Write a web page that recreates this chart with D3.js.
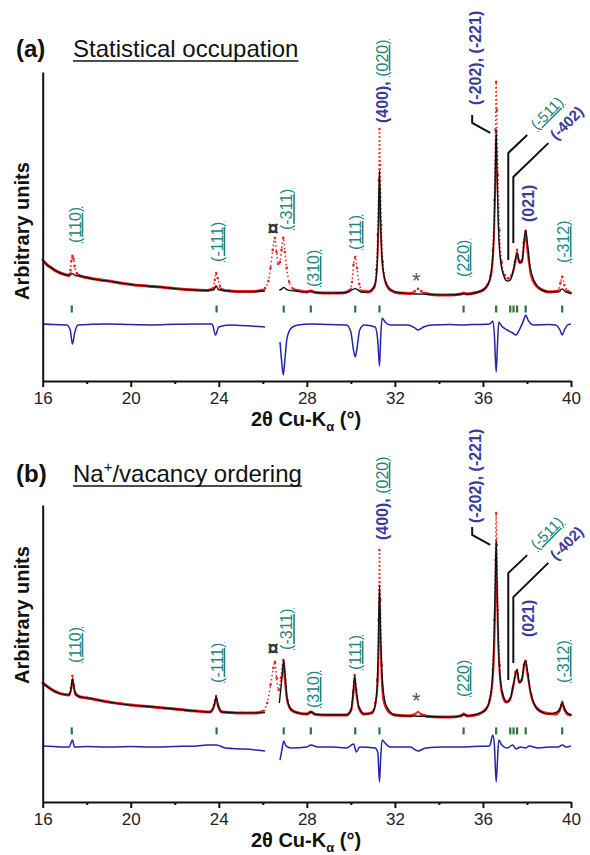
<!DOCTYPE html>
<html>
<head>
<meta charset="utf-8">
<script src="https://cdn.jsdelivr.net/npm/d3@7"></script>
<style>
  body { margin: 0; background: #fff; }
  svg { display: block; }
  text { font-family: "Liberation Sans", Arial, sans-serif; }
</style>
</head>
<body>
<div id="chart"></div>
<script>
// x axis ticks (2 theta, degrees)
const xTicks = [16, 20, 24, 28, 32, 36, 40];
const xMinorTicks = [18, 22, 26, 30, 34, 38];

// region left out of the refinement (calc and difference curves break here)
const excluded = [26.12, 26.72];

// Bragg reflection positions (green tick marks)
const reflections = [17.32, 23.9, 26.95, 28.18, 30.2, 31.3, 35.12, 36.6, 37.24, 37.39, 37.55, 37.94, 39.6];

// (a) statistical occupation: [2theta, intensity]
const obsA = [[16.0,40.3],[16.2,38.7],[16.4,37.7],[16.6,36.7],[16.8,36.0],[17.0,35.5],[17.2,35.2],[17.26,37.0],[17.3,40.0],[17.35,41.7],[17.4,40.7],[17.45,38.3],[17.55,36.0],[17.7,35.0],[18.0,34.5],[18.5,33.8],[19.0,33.3],[19.5,32.7],[20.0,32.2],[20.5,31.8],[21.0,31.5],[21.5,31.2],[22.0,30.8],[22.5,30.5],[23.0,30.3],[23.5,30.2],[23.75,31.0],[23.82,33.7],[23.88,36.0],[23.95,34.3],[24.05,31.7],[24.2,30.3],[24.5,30.0],[25.0,29.8],[25.5,29.8],[25.9,30.2],[26.1,31.0],[26.25,33.3],[26.35,37.7],[26.45,43.7],[26.55,47.7],[26.62,43.0],[26.7,39.0],[26.78,39.7],[26.85,43.7],[26.93,47.7],[27.0,43.0],[27.08,37.7],[27.2,33.0],[27.4,30.7],[27.7,30.0],[28.0,29.7],[28.18,30.0],[28.4,29.5],[29.0,29.3],[29.6,29.3],[29.9,30.0],[30.05,33.0],[30.12,38.7],[30.2,41.3],[30.28,37.7],[30.38,32.3],[30.55,30.0],[30.8,29.7],[31.05,31.3],[31.15,37.0],[31.22,48.7],[31.27,67.0],[31.3,84.0],[31.33,72.0],[31.38,52.0],[31.45,39.7],[31.6,32.7],[31.8,30.3],[32.2,29.3],[32.7,29.2],[32.9,30.0],[33.05,30.7],[33.2,30.0],[33.5,29.0],[34.0,28.7],[34.5,28.7],[35.0,29.0],[35.12,29.3],[35.3,29.0],[35.7,29.5],[36.0,30.3],[36.2,32.0],[36.35,35.3],[36.45,43.7],[36.52,60.3],[36.57,83.7],[36.6,99.7],[36.63,90.3],[36.68,68.7],[36.75,50.3],[36.85,39.7],[37.0,35.3],[37.15,34.3],[37.3,35.3],[37.45,39.7],[37.55,43.7],[37.65,39.7],[37.75,39.7],[37.85,46.0],[37.94,50.0],[38.05,43.0],[38.2,35.3],[38.4,32.0],[38.7,30.3],[39.0,29.7],[39.4,30.0],[39.52,32.7],[39.6,34.7],[39.7,32.0],[39.85,30.0],[40.0,29.3]];
const calcA = [[16.0,40.3],[16.2,38.7],[16.4,37.7],[16.6,36.7],[16.8,36.0],[17.0,35.5],[17.2,35.2],[17.35,35.8],[17.5,35.1],[17.7,35.0],[18.0,34.5],[18.5,33.8],[19.0,33.3],[19.5,32.7],[20.0,32.2],[20.5,31.8],[21.0,31.5],[21.5,31.2],[22.0,30.8],[22.5,30.5],[23.0,30.3],[23.5,30.2],[23.78,30.4],[23.88,31.7],[23.98,30.5],[24.2,30.2],[24.5,30.0],[25.0,29.8],[25.5,29.8],[26.1,30.0],[26.75,30.2],[26.88,30.8],[26.95,31.2],[27.05,30.6],[27.2,30.2],[27.5,30.0],[28.0,29.7],[28.18,29.9],[28.4,29.5],[29.0,29.3],[29.8,29.5],[30.2,30.8],[30.5,29.6],[30.8,29.8],[31.0,30.7],[31.12,33.0],[31.2,40.3],[31.25,53.7],[31.3,70.3],[31.35,54.3],[31.42,41.0],[31.55,33.7],[31.75,30.7],[32.0,29.7],[32.5,29.2],[33.0,29.0],[33.5,28.9],[34.0,28.7],[34.5,28.7],[35.0,28.9],[35.12,29.1],[35.3,29.0],[35.7,29.5],[35.9,30.0],[36.15,31.3],[36.3,33.7],[36.42,39.7],[36.5,50.3],[36.56,70.3],[36.6,83.7],[36.64,70.3],[36.7,52.0],[36.8,40.3],[36.95,35.0],[37.1,33.3],[37.25,33.7],[37.4,37.7],[37.55,42.7],[37.68,39.3],[37.78,40.3],[37.87,47.0],[37.94,50.3],[38.03,45.3],[38.15,37.7],[38.35,33.0],[38.6,30.7],[39.0,29.7],[39.45,29.7],[39.6,30.7],[39.75,29.7],[40.0,29.3]];
const diffA = [[16.0,19.0],[16.5,18.8],[17.1,18.7],[17.25,17.0],[17.35,12.3],[17.45,16.0],[17.6,18.7],[18.2,18.9],[19.0,19.0],[20.0,18.8],[21.0,18.7],[22.0,18.9],[23.0,19.0],[23.7,19.0],[23.85,15.3],[24.0,18.0],[24.5,18.7],[25.0,18.5],[25.5,18.3],[26.1,18.0],[26.78,13.0],[26.85,7.0],[26.93,2.0],[27.0,7.0],[27.1,14.3],[27.3,17.7],[27.6,18.7],[28.2,19.0],[29.0,18.8],[29.8,18.7],[30.0,16.3],[30.12,10.3],[30.2,8.0],[30.28,11.0],[30.4,17.0],[30.6,18.7],[31.1,18.0],[31.22,13.7],[31.3,5.0],[31.36,15.3],[31.42,21.0],[31.55,19.7],[31.8,18.7],[32.6,18.7],[32.9,17.7],[33.05,17.0],[33.3,18.0],[33.7,18.7],[34.5,18.8],[35.0,18.7],[35.5,18.8],[36.3,19.0],[36.45,20.0],[36.52,15.3],[36.6,3.0],[36.66,12.0],[36.72,19.7],[36.85,18.3],[37.1,17.0],[37.35,16.0],[37.5,15.3],[37.65,17.0],[37.85,20.3],[37.94,22.0],[38.05,20.3],[38.3,18.7],[39.0,18.8],[39.3,18.7],[39.5,17.0],[39.6,15.3],[39.7,17.0],[39.85,18.7],[40.0,19.0]];

// (b) Na+/vacancy ordering: [2theta, intensity]
const obsB = [[16.0,39.7],[16.3,38.0],[16.6,36.7],[17.0,35.8],[17.2,35.7],[17.28,38.0],[17.35,42.0],[17.42,39.0],[17.5,36.0],[17.7,35.0],[18.0,34.7],[18.5,34.0],[19.0,33.3],[19.5,32.8],[20.0,32.3],[20.5,32.0],[21.0,31.7],[21.5,31.3],[22.0,31.0],[22.5,30.6],[23.0,30.3],[23.6,30.0],[23.78,32.3],[23.88,35.3],[23.98,32.0],[24.15,30.0],[24.6,29.8],[25.0,29.7],[25.7,29.7],[26.0,30.3],[26.2,33.0],[26.35,39.0],[26.48,44.7],[26.55,46.7],[26.63,41.3],[26.72,37.3],[26.82,41.3],[26.93,47.3],[27.02,40.7],[27.12,34.0],[27.3,30.7],[27.6,29.7],[28.0,29.3],[28.18,30.0],[28.4,29.2],[29.0,29.0],[29.8,29.0],[30.0,30.7],[30.1,36.7],[30.17,42.3],[30.25,37.3],[30.38,31.3],[30.6,29.3],[30.95,29.7],[31.1,33.0],[31.2,40.7],[31.26,60.7],[31.3,84.0],[31.34,67.3],[31.4,45.7],[31.5,34.0],[31.7,30.3],[32.0,29.0],[32.7,28.7],[32.9,29.3],[33.05,30.0],[33.2,29.3],[33.5,28.5],[34.5,28.3],[35.0,28.7],[35.12,29.3],[35.3,28.7],[35.8,29.3],[36.1,30.7],[36.3,34.0],[36.45,44.0],[36.52,60.7],[36.57,80.7],[36.6,96.3],[36.63,85.7],[36.68,64.0],[36.76,45.7],[36.88,36.3],[37.05,33.3],[37.2,34.0],[37.35,38.0],[37.47,43.3],[37.55,44.0],[37.65,40.0],[37.75,40.7],[37.86,45.7],[37.94,47.0],[38.05,42.3],[38.2,35.7],[38.45,31.3],[38.8,29.7],[39.3,29.3],[39.48,30.7],[39.6,33.3],[39.72,30.7],[39.85,29.3],[40.0,29.0]];
const calcB = [[16.0,39.7],[16.3,38.0],[16.6,36.7],[17.0,35.8],[17.2,35.7],[17.28,37.5],[17.35,41.0],[17.42,38.5],[17.5,36.0],[17.7,35.0],[18.0,34.7],[19.0,33.3],[20.0,32.3],[21.0,31.7],[22.0,31.0],[23.0,30.3],[23.6,30.0],[23.78,32.0],[23.88,35.0],[23.98,32.0],[24.15,30.0],[25.0,29.7],[25.7,29.7],[26.1,29.8],[26.75,33.0],[26.85,40.0],[26.95,47.3],[27.03,41.0],[27.12,34.0],[27.3,30.7],[27.6,29.7],[28.0,29.3],[28.18,30.0],[28.4,29.2],[29.0,29.0],[29.8,29.0],[30.0,30.5],[30.1,36.5],[30.17,42.0],[30.25,37.0],[30.38,31.3],[30.6,29.3],[30.95,29.7],[31.0,30.0],[31.12,33.0],[31.2,40.0],[31.25,54.0],[31.3,72.3],[31.35,56.7],[31.42,42.3],[31.55,33.3],[31.75,30.3],[32.0,29.0],[32.7,28.7],[33.0,28.6],[33.5,28.5],[34.5,28.3],[35.0,28.7],[35.12,29.2],[35.3,28.7],[35.9,29.7],[36.15,31.0],[36.3,34.0],[36.42,40.7],[36.5,54.0],[36.56,74.0],[36.6,87.3],[36.64,74.0],[36.7,54.0],[36.8,40.7],[36.95,34.7],[37.1,33.3],[37.25,34.7],[37.4,40.0],[37.55,44.0],[37.66,39.7],[37.76,40.7],[37.87,46.0],[37.94,47.0],[38.03,43.3],[38.15,37.3],[38.35,32.3],[38.6,30.3],[39.0,29.3],[39.45,30.3],[39.6,33.0],[39.75,30.3],[40.0,29.0]];
const diffB = [[16.0,18.7],[16.5,18.5],[17.2,18.3],[17.35,20.7],[17.45,18.3],[18.0,18.5],[19.0,18.3],[20.0,18.5],[21.0,18.3],[22.0,18.5],[23.0,18.7],[23.5,19.0],[23.9,19.0],[24.3,18.0],[25.0,17.7],[25.5,17.5],[26.1,17.0],[26.78,14.0],[26.85,16.7],[26.95,20.3],[27.05,18.7],[27.3,18.0],[28.0,18.3],[28.18,19.0],[28.5,18.3],[29.2,18.3],[29.8,18.0],[30.12,19.3],[30.25,16.7],[30.4,18.3],[31.1,18.0],[31.22,16.7],[31.3,6.7],[31.35,14.0],[31.42,20.7],[31.55,19.7],[31.8,18.3],[32.7,18.3],[33.05,17.0],[33.4,18.0],[34.2,18.3],[35.0,18.3],[35.6,18.5],[36.3,18.7],[36.45,22.3],[36.52,19.0],[36.6,6.7],[36.66,14.0],[36.72,20.7],[36.85,19.0],[37.1,18.0],[37.35,19.0],[37.5,17.7],[37.7,18.3],[37.94,18.0],[38.1,18.7],[38.5,18.0],[39.0,18.3],[39.4,18.3],[39.6,19.0],[39.8,18.3],[40.0,18.7]];

const TEAL = "#23857c";
const BLUE = "#3b3b9c";
const RED = "#e8262a";

// hkl labels: text parts, where they sit (deg, intensity in a / b) and rotation
const hklLabels = [
  { parts: [["(110)", TEAL]], deg: 17.47, v: [46, 46.3] },
  { parts: [["(-111)", TEAL]], deg: 23.92, v: [39.7, 39.7] },
  { parts: [["(-311)", TEAL]], deg: 27.08, v: [50.3, 50.7] },
  { parts: [["(310)", TEAL]], deg: 28.29, v: [31.3, 31.3] },
  { parts: [["(111)", TEAL]], deg: 30.2, v: [43.7, 44] },
  { parts: [["(400), ", BLUE], ["(020)", TEAL]], deg: 31.42, v: [86, 87.3] },
  { parts: [["(220)", TEAL]], deg: 35.1, v: [34.7, 35] },
  { parts: [["(-202), (-221)", BLUE]], deg: 35.65, v: [92, 93] },
  { parts: [["(021)", BLUE]], deg: 38.06, v: [53, 55] },
  { parts: [["(-312)", TEAL]], deg: 39.65, v: [39.3, 39.7] },
  { parts: [["(-511)", TEAL]], deg: 38.9, v: [89.3, 89.7], rot: -45, anchor: "middle" },
  { parts: [["(-402)", BLUE]], deg: 39.8, v: [86, 86.3], rot: -45, anchor: "middle" }
];

const leaders = [
  { deg: [35.51, 35.51, 36.33], v: [[88.7, 86, 82.7], [91.7, 89, 85.7]] },
  { deg: [38.01, 37.15, 37.15], v: [[82, 76, 40.3], [82.3, 76.3, 40.7]] },
  { deg: [38.97, 37.38, 37.38], v: [[79.3, 68, 46], [79.7, 68.3, 46.3]] }
];

const panels = [
  { idx: 0, tag: "(a)", title: [["Statistical occupation"]], titleY: 57, axisY: 381, topY: 72,
    unitsY: 231, obs: obsA, calc: calcA, diff: diffA, reflV: 24, impurityV: 48.7, starV: 31 },
  { idx: 1, tag: "(b)", title: [["Na"], ["+", "sup"], ["/vacancy ordering"]], titleY: 482, axisY: 802, topY: 505,
    unitsY: 615, obs: obsB, calc: calcB, diff: diffB, reflV: 23.7, impurityV: 49, starV: 31.3 }
];

const svg = d3.select("#chart").append("svg")
  .attr("width", 590)
  .attr("height", 855);

const x = d3.scaleLinear().domain([16, 40]).range([42.7, 571]);

function drawPanel(p) {
  const y = d3.scaleLinear()
    .domain([0, (p.axisY - p.topY) / 3])
    .range([p.axisY, p.topY]);
  const g = svg.append("g");

  const line = d3.line()
    .x(d => x(d[0]))
    .y(d => y(d[1]))
    .curve(d3.curveMonotoneX);

  // split a refined curve around the excluded region
  const segments = data => [
    data.filter(d => d[0] <= excluded[0]),
    data.filter(d => d[0] >= excluded[1])
  ];

  // the dense observed band is only kept close to the calculated curve,
  // where observed points stand well above it only the sparse points show
  const clipId = "band" + p.idx;
  g.append("clipPath")
    .attr("id", clipId)
    .append("path")
    .attr("d", d3.area()
      .x(d => x(d[0]))
      .y0(p.axisY)
      .y1(d => y(d[1]) - 2.5)
      .curve(d3.curveMonotoneX)(p.calc));

  // observed (red)
  g.append("path")
    .datum(p.obs)
    .attr("d", line)
    .attr("clip-path", `url(#${clipId})`)
    .attr("fill", "none")
    .attr("stroke", RED)
    .attr("stroke-width", 3);
  g.append("path")
    .datum(p.obs)
    .attr("d", line)
    .attr("fill", "none")
    .attr("stroke", RED)
    .attr("stroke-width", 1.5)
    .attr("stroke-dasharray", "1.5 2.5");
  g.selectAll("circle.obs")
    .data(p.obs)
    .join("circle")
    .attr("class", "obs")
    .attr("cx", d => x(d[0]))
    .attr("cy", d => y(d[1]))
    .attr("r", 1.3)
    .attr("fill", RED);

  // calculated (black)
  g.selectAll("path.calc")
    .data(segments(p.calc))
    .join("path")
    .attr("class", "calc")
    .attr("d", line)
    .attr("fill", "none")
    .attr("stroke", "#111")
    .attr("stroke-width", 1.4);

  // difference (blue)
  g.selectAll("path.diff")
    .data(segments(p.diff))
    .join("path")
    .attr("class", "diff")
    .attr("d", line)
    .attr("fill", "none")
    .attr("stroke", "#2424a8")
    .attr("stroke-width", 1.5);

  // reflection markers
  g.selectAll("line.refl")
    .data(reflections)
    .join("line")
    .attr("class", "refl")
    .attr("x1", d => x(d))
    .attr("x2", d => x(d))
    .attr("y1", y(p.reflV) - 3.5)
    .attr("y2", y(p.reflV) + 3.5)
    .attr("stroke", "#2b7436")
    .attr("stroke-width", 2.2);

  // axes
  const xAxis = g.append("g")
    .attr("transform", `translate(0,${p.axisY})`)
    .call(d3.axisBottom(x).tickValues(xTicks).tickSize(6).tickSizeOuter(0).tickPadding(5));
  xAxis.select(".domain").attr("stroke", "#111").attr("stroke-width", 2);
  xAxis.selectAll(".tick line").attr("stroke", "#111").attr("stroke-width", 2);
  xAxis.selectAll(".tick text")
    .attr("font-size", 17)
    .attr("font-family", "Liberation Sans, Arial, sans-serif")
    .attr("fill", "#222");

  const xMinor = g.append("g")
    .attr("transform", `translate(0,${p.axisY})`)
    .call(d3.axisBottom(x).tickValues(xMinorTicks).tickSize(3).tickFormat(""));
  xMinor.select(".domain").remove();
  xMinor.selectAll(".tick line").attr("stroke", "#111").attr("stroke-width", 2);

  const yAxis = g.append("g")
    .attr("transform", `translate(${x(16)},0)`)
    .call(d3.axisLeft(y).tickValues([]).tickSizeOuter(0));
  yAxis.select(".domain").attr("stroke", "#111").attr("stroke-width", 2);

  // axis titles
  g.append("text")
    .attr("transform", `translate(22,${p.unitsY}) rotate(-90)`)
    .attr("dy", "0.35em")
    .attr("text-anchor", "middle")
    .attr("font-size", 20)
    .attr("font-weight", "bold")
    .attr("fill", "#111")
    .text("Arbitrary units");

  const xt = g.append("text")
    .attr("x", 306)
    .attr("y", p.axisY + 45)
    .attr("text-anchor", "middle")
    .attr("font-size", 20)
    .attr("font-weight", "bold")
    .attr("fill", "#111");
  xt.append("tspan").text("2θ Cu-K");
  xt.append("tspan").text("α").attr("font-size", 13).attr("dy", 5);
  xt.append("tspan").text(" (°)").attr("dy", -5);

  // panel heading
  g.append("text")
    .attr("x", 16)
    .attr("y", p.titleY)
    .attr("font-size", 24)
    .attr("font-weight", "bold")
    .attr("fill", "#111")
    .text(p.tag);
  const tt = g.append("text")
    .attr("x", 73)
    .attr("y", p.titleY)
    .attr("font-size", 24)
    .attr("fill", "#111");
  p.title.forEach(([s, kind], i) => {
    const ts = tt.append("tspan").text(s);
    if (kind === "sup") ts.attr("font-size", 15).attr("dy", -10);
    else if (i > 0 && p.title[i - 1][1] === "sup") ts.attr("dy", 10);
  });
  const tw = tt.node().getComputedTextLength();
  g.append("line")
    .attr("x1", 73).attr("x2", 73 + tw)
    .attr("y1", p.titleY + 4).attr("y2", p.titleY + 4)
    .attr("stroke", "#111").attr("stroke-width", 1.6);

  // hkl labels
  hklLabels.forEach(lab => {
    const t = g.append("text")
      .attr("transform", `translate(${x(lab.deg)},${y(lab.v[p.idx])}) rotate(${lab.rot || -90})`)
      .attr("dy", "0.35em")
      .attr("text-anchor", lab.anchor || "start")
      .attr("font-size", lab.rot ? 15 : 16);
    lab.parts.forEach(([s, c]) => {
      const ts = t.append("tspan").text(s).attr("fill", c);
      if (c === BLUE) ts.attr("font-weight", "bold");
      else ts.attr("text-decoration", "underline");
    });
  });

  // leader lines
  leaders.forEach(ld => {
    g.append("path")
      .attr("d", d3.line()(ld.deg.map((d, i) => [x(d), y(ld.v[p.idx][i])])))
      .attr("fill", "none")
      .attr("stroke", "#111")
      .attr("stroke-width", 2);
  });

  // impurity and unindexed markers
  g.append("text")
    .attr("x", x(26.47))
    .attr("y", y(p.impurityV))
    .attr("text-anchor", "middle")
    .attr("font-size", 20)
    .attr("font-weight", "bold")
    .attr("fill", "#333")
    .text("¤");
  g.append("text")
    .attr("x", x(32.97))
    .attr("y", y(p.starV))
    .attr("text-anchor", "middle")
    .attr("font-size", 22)
    .attr("fill", "#555")
    .text("*");
}

panels.forEach(drawPanel);
</script>
</body>
</html>
